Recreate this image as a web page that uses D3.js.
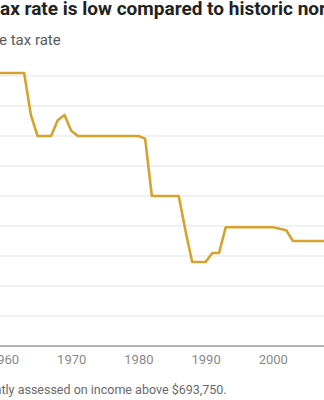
<!DOCTYPE html>
<html>
<head>
<meta charset="utf-8">
<script src="https://cdn.jsdelivr.net/npm/d3@7"></script>
<style>
  html, body { margin: 0; padding: 0; background: #fff; overflow: hidden; }
  svg { display: block; }
</style>
</head>
<body>
<svg id="chart" width="324" height="400"></svg>
<script>
// Top marginal federal income tax rate, by year (percent)
const years = [1954, 1955, 1956, 1957, 1958, 1959, 1960, 1961, 1962, 1963,
  1964, 1965, 1966, 1967, 1968, 1969, 1970, 1971, 1972, 1973, 1974, 1975,
  1976, 1977, 1978, 1979, 1980, 1981, 1982, 1983, 1984, 1985, 1986, 1987,
  1988, 1989, 1990, 1991, 1992, 1993, 1994, 1995, 1996, 1997, 1998, 1999,
  2000, 2001, 2002, 2003, 2004, 2005, 2006, 2007, 2008, 2009, 2010, 2011,
  2012, 2013, 2014, 2015, 2016, 2017, 2018, 2019, 2020, 2021, 2022, 2023];
const topRate = [91, 91, 91, 91, 91, 91, 91, 91, 91, 91,
  77, 70, 70, 70, 75.25, 77, 71.75, 70, 70, 70, 70, 70,
  70, 70, 70, 70, 70, 69.13, 50, 50, 50, 50, 50, 38.5,
  28, 28, 28, 31, 31, 39.6, 39.6, 39.6, 39.6, 39.6, 39.6, 39.6,
  39.6, 39.1, 38.6, 35, 35, 35, 35, 35, 35, 35, 35, 35,
  35, 39.6, 39.6, 39.6, 39.6, 39.6, 37, 37, 37, 37, 37, 37];
const xTicks = [1960, 1970, 1980, 1990, 2000, 2010, 2020];
const yTicks = [10, 20, 30, 40, 50, 60, 70, 80, 90];

const title = "America\u2019s top tax rate is low compared to historic norms";
const subtitle = "Top marginal income tax rate";
const note = "Note: Top rate currently assessed on income above $693,750.";

const svg = d3.select("#chart");
const W = 324;

const pxPerYear = 6.72;
const x = d3.scaleLinear()
  .domain([1954, 2023])
  .range([4 - 6 * pxPerYear, 4 + 63 * pxPerYear]);
const y = d3.scaleLinear().domain([0, 100]).range([346, 46]);

// gridlines
svg.append("g")
  .selectAll("line")
  .data(yTicks)
  .join("line")
  .attr("x1", -50).attr("x2", W + 10)
  .attr("y1", d => y(d)).attr("y2", d => y(d))
  .attr("stroke", "#e3e3e3")
  .attr("stroke-width", 1);

// x axis
const xAxis = svg.append("g")
  .attr("transform", `translate(0,${y(0)})`)
  .call(d3.axisBottom(x).tickValues(xTicks).tickFormat(d3.format("d"))
    .tickSize(0).tickPadding(9));
xAxis.select(".domain").remove();
xAxis.append("line")
  .attr("x1", -50).attr("x2", W + 10)
  .attr("stroke", "#9a9a9a").attr("stroke-width", 1.6);
xAxis.selectAll("text")
  .attr("fill", "#8a8a8a")
  .style("font-family", "Roboto, 'Open Sans', sans-serif")
  .style("font-size", "13px");

// rate line
const line = d3.line()
  .x((d, i) => x(years[i]))
  .y(d => y(d));
svg.append("path")
  .datum(topRate)
  .attr("d", line)
  .attr("fill", "none")
  .attr("stroke", "#d5a32f")
  .attr("stroke-width", 2.6)
  .attr("stroke-linejoin", "round");

// Text blocks anchored so that a chosen character lands at a given x
function placedText(str, anchorIdx, ax, yy, styles) {
  const t = svg.append("text").text(str).attr("y", yy).attr("x", 0);
  Object.entries(styles).forEach(([k, v]) => t.style(k, v));
  const off = anchorIdx > 0 ? t.node().getSubStringLength(0, anchorIdx) : 0;
  t.attr("x", ax - off);
  return t;
}

placedText(title, title.indexOf("ax rate"), 0, 15, {
  "font-family": "Roboto, 'Open Sans', sans-serif",
  "font-weight": "700",
  "font-size": "19px",
  "fill": "#222"
});

placedText(subtitle, subtitle.indexOf("e tax"), -1, 45, {
  "font-family": "Roboto, 'Open Sans', sans-serif",
  "font-size": "15px",
  "fill": "#5a5a5a"
});

placedText(note, note.indexOf("tly"), 1.5, 394, {
  "font-family": "Roboto, 'Open Sans', sans-serif",
  "font-size": "12.5px",
  "fill": "#6a6a6a"
});
</script>
</body>
</html>
